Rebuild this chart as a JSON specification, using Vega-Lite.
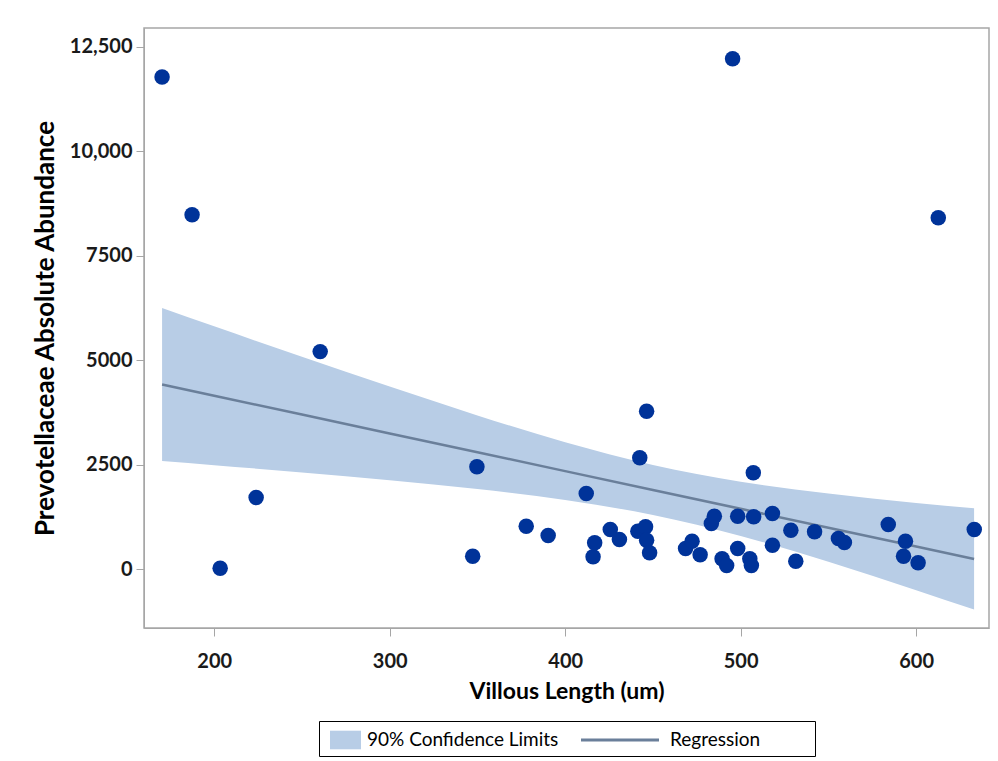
{
  "$schema": "https://vega.github.io/schema/vega-lite/v6.json",
  "width": 845,
  "height": 600,
  "padding": {"left": 32, "top": 28, "right": 6, "bottom": 5},
  "background": "white",
  "datasets": {
    "band": [
      {"x": 170.3, "lower": 2596, "upper": 6256, "fit": 4426, "series": "90% Confidence Limits"},
      {"x": 200, "lower": 2495, "upper": 5815, "fit": 4155, "series": "90% Confidence Limits"},
      {"x": 250, "lower": 2320, "upper": 5088, "fit": 3704, "series": "90% Confidence Limits"},
      {"x": 300, "lower": 2133, "upper": 4373, "fit": 3253, "series": "90% Confidence Limits"},
      {"x": 350, "lower": 1923, "upper": 3683, "fit": 2803, "series": "90% Confidence Limits"},
      {"x": 400, "lower": 1662, "upper": 3042, "fit": 2352, "series": "90% Confidence Limits"},
      {"x": 450, "lower": 1302, "upper": 2500, "fit": 1901, "series": "90% Confidence Limits"},
      {"x": 500, "lower": 801, "upper": 2099, "fit": 1450, "series": "90% Confidence Limits"},
      {"x": 550, "lower": 183, "upper": 1815, "fit": 999, "series": "90% Confidence Limits"},
      {"x": 600, "lower": -496, "upper": 1592, "fit": 548, "series": "90% Confidence Limits"},
      {"x": 633, "lower": -960, "upper": 1462, "fit": 251, "series": "90% Confidence Limits"}
    ],
    "pts": [
      {"x": 170.3, "y": 11780}, {"x": 187.4, "y": 8485}, {"x": 203.4, "y": 30},
      {"x": 223.9, "y": 1721}, {"x": 260.4, "y": 5210}, {"x": 347.3, "y": 318},
      {"x": 349.7, "y": 2455}, {"x": 377.8, "y": 1035}, {"x": 390.3, "y": 813},
      {"x": 412.0, "y": 1816}, {"x": 415.9, "y": 304}, {"x": 416.8, "y": 638},
      {"x": 425.7, "y": 956}, {"x": 430.9, "y": 717}, {"x": 442.5, "y": 2670},
      {"x": 446.4, "y": 3783}, {"x": 441.4, "y": 915}, {"x": 445.8, "y": 1020},
      {"x": 446.4, "y": 700}, {"x": 448.1, "y": 399}, {"x": 468.6, "y": 502},
      {"x": 472.3, "y": 676}, {"x": 476.9, "y": 351}, {"x": 483.3, "y": 1099},
      {"x": 485.0, "y": 1274}, {"x": 489.4, "y": 256}, {"x": 492.0, "y": 96},
      {"x": 498.3, "y": 1274}, {"x": 498.3, "y": 502}, {"x": 507.2, "y": 2311},
      {"x": 507.4, "y": 1260}, {"x": 505.2, "y": 256}, {"x": 506.1, "y": 96},
      {"x": 518.1, "y": 1338}, {"x": 518.1, "y": 581}, {"x": 528.6, "y": 939},
      {"x": 531.4, "y": 198}, {"x": 542.1, "y": 901}, {"x": 555.7, "y": 741},
      {"x": 559.1, "y": 645}, {"x": 584.1, "y": 1076}, {"x": 593.9, "y": 676},
      {"x": 592.8, "y": 318}, {"x": 601.1, "y": 160}, {"x": 633.1, "y": 956},
      {"x": 495.4, "y": 12213}, {"x": 612.6, "y": 8413}
    ]
  },
  "layer": [
    {
      "data": {"name": "band"},
      "mark": {"type": "area", "interpolate": "monotone", "opacity": 1},
      "encoding": {
        "x": {"field": "x", "type": "quantitative"},
        "y": {"field": "lower", "type": "quantitative"},
        "y2": {"field": "upper"},
        "color": {"field": "series", "type": "nominal"}
      }
    },
    {
      "data": {"name": "band"},
      "transform": [{"calculate": "'Regression'", "as": "series"}],
      "mark": {"type": "line", "strokeWidth": 2.5},
      "encoding": {
        "x": {"field": "x", "type": "quantitative"},
        "y": {"field": "fit", "type": "quantitative"},
        "color": {"field": "series", "type": "nominal"}
      }
    },
    {
      "data": {"name": "pts"},
      "mark": {"type": "circle", "size": 240, "color": "#003399", "opacity": 1},
      "encoding": {
        "x": {
          "field": "x", "type": "quantitative",
          "scale": {"domain": [160, 641.5], "nice": false, "zero": false},
          "axis": {"values": [200, 300, 400, 500, 600], "title": "Villous Length (um)"}
        },
        "y": {
          "field": "y", "type": "quantitative",
          "scale": {"domain": [-1400, 12950], "nice": false, "zero": false},
          "axis": {
            "values": [0, 2500, 5000, 7500, 10000, 12500],
            "title": "Prevotellaceae Absolute Abundance",
            "labelExpr": "datum.value >= 10000 ? format(datum.value, ',') : format(datum.value, 'd')"
          }
        }
      }
    }
  ],
  "resolve": {"scale": {"color": "shared"}},
  "encoding": {
    "color": {
      "scale": {"domain": ["90% Confidence Limits", "Regression", " "], "range": ["#b8cde6", "#6a7f9a", "#ffffff"]},
      "legend": {
        "encode": {
          "symbols": {
            "update": {
              "shape": {"signal": "datum.value === '90% Confidence Limits' ? 'M-1,-0.6H1V0.6H-1Z' : 'M-1,-0.04H1V0.04H-1Z'"},
              "size": {"signal": "datum.value === 'Regression' ? 6084 : datum.value === '90% Confidence Limits' ? 961 : 1444"},
              "x": {"signal": "datum.value === 'Regression' ? 51 : datum.value === '90% Confidence Limits' ? 20.5 : 19"},
              "y": {"value": 13},
              "fill": {"signal": "datum.value === 'Regression' ? '#6a7f9a' : datum.value === '90% Confidence Limits' ? '#b8cde6' : 'transparent'"},
              "stroke": {"value": "transparent"},
              "strokeWidth": {"value": 0},
              "opacity": {"value": 1}
            }
          },
          "labels": {
            "update": {
              "x": {"signal": "datum.value === 'Regression' ? 101 : datum.value === '90% Confidence Limits' ? 42 : 30"},
              "y": {"value": 13},
              "baseline": {"value": "middle"}
            }
          }
        }
      }
    }
  },
  "config": {
    "font": "Lato",
    "view": {"stroke": "#a6a6a6", "strokeWidth": 1.5},
    "axis": {
      "grid": false,
      "domainColor": "#a6a6a6",
      "tickColor": "#a6a6a6",
      "tickSize": 8,
      "labelFont": "Lato",
      "labelFontSize": 20,
      "labelFontWeight": "bold",
      "labelColor": "#1a1a1a",
      "titleFont": "Lato",
      "titleFontWeight": "bold",
      "titleColor": "#000000"
    },
    "axisX": {"labelPadding": 15, "titlePadding": 9, "titleFontSize": 23},
    "axisY": {"labelPadding": 4, "titlePadding": 11, "titleFontSize": 26},
    "legend": {
      "orient": "bottom",
      "direction": "horizontal",
      "title": null,
      "strokeColor": "#000000",
      "fillColor": "white",
      "padding": 6,
      "offset": 18,
      "labelFont": "Lato",
      "labelFontSize": 19,
      "labelLimit": 0,
      "labelColor": "#000000",
      "columnPadding": 10,
      "symbolSize": 676,
      "symbolOffset": 0,
      "layout": {"bottom": {"anchor": "middle"}}
    }
  }
}
